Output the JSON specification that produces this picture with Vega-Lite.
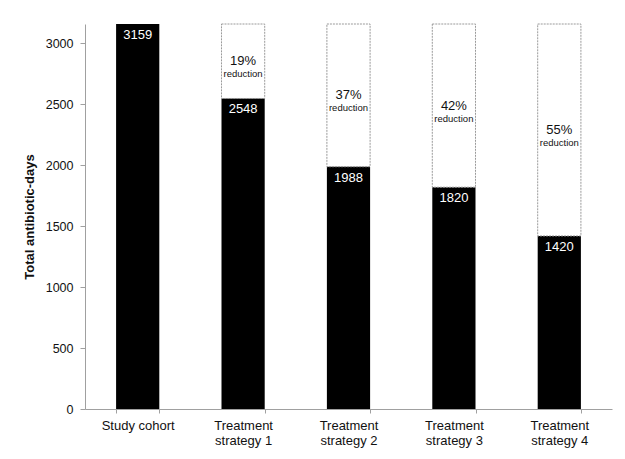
{
  "$schema": "https://vega.github.io/schema/vega-lite/v6.json",
  "width": 527,
  "height": 385,
  "autosize": {"type": "none"},
  "padding": {"left": 85, "top": 24, "right": 13, "bottom": 50},
  "background": "white",
  "config": {"view": {"stroke": null}, "font": "Liberation Sans"},
  "data": {
    "values": [
      {"group": "Study cohort", "days": 3159, "cohort": 3159, "pct": null},
      {"group": "Treatment strategy 1", "days": 2548, "cohort": 3159, "pct": "19%"},
      {"group": "Treatment strategy 2", "days": 1988, "cohort": 3159, "pct": "37%"},
      {"group": "Treatment strategy 3", "days": 1820, "cohort": 3159, "pct": "42%"},
      {"group": "Treatment strategy 4", "days": 1420, "cohort": 3159, "pct": "55%"}
    ]
  },
  "encoding": {
    "x": {
      "field": "group",
      "type": "nominal",
      "sort": null,
      "scale": {"paddingInner": 0.59, "paddingOuter": 0.295},
      "axis": {
        "title": null,
        "labelAngle": 0,
        "tickBand": "extent",
        "tickSize": 4,
        "tickColor": "#a0a0a0",
        "domainColor": "#a0a0a0",
        "labelFontSize": 13,
        "labelColor": "#111",
        "labelPadding": 6,
        "labelLineHeight": 15,
        "labelBaseline": "top",
        "labelExpr": "indexof(datum.label, 'Treatment') == 0 ? ['Treatment', replace(datum.label, 'Treatment ', '')] : datum.label"
      }
    }
  },
  "layer": [
    {
      "mark": {"type": "bar", "color": "black"},
      "encoding": {
        "y": {
          "field": "days",
          "type": "quantitative",
          "scale": {"domain": [0, 3159], "nice": false},
          "axis": {
            "values": [0, 500, 1000, 1500, 2000, 2500, 3000],
            "format": "d",
            "title": "Total antibiotic-days",
            "titleFontWeight": "bold",
            "titleFontSize": 13,
            "titleColor": "#111",
            "titlePadding": 9,
            "grid": false,
            "tickSize": 5,
            "tickColor": "#a0a0a0",
            "domainColor": "#a0a0a0",
            "labelFontSize": 12.5,
            "labelColor": "#111",
            "labelPadding": 7
          }
        }
      }
    },
    {
      "transform": [{"filter": "datum.pct != null"}],
      "mark": {"type": "bar", "fill": "white", "fillOpacity": 0, "stroke": "#9a9a9a", "strokeDash": [2, 1], "strokeWidth": 1},
      "encoding": {
        "y": {"field": "days", "type": "quantitative"},
        "y2": {"field": "cohort"}
      }
    },
    {
      "mark": {"type": "text", "color": "white", "baseline": "top", "dy": 5, "fontSize": 13},
      "encoding": {
        "y": {"field": "days", "type": "quantitative"},
        "text": {"field": "days", "type": "quantitative", "format": "d"}
      }
    },
    {
      "transform": [
        {"filter": "datum.pct != null"},
        {"fold": ["days", "cohort"], "as": ["k", "v"]}
      ],
      "mark": {"type": "text", "color": "#111", "baseline": "middle", "fontSize": 13},
      "encoding": {
        "y": {"aggregate": "mean", "field": "v", "type": "quantitative"},
        "text": {"field": "pct", "type": "nominal"}
      }
    },
    {
      "transform": [
        {"filter": "datum.pct != null"},
        {"fold": ["days", "cohort"], "as": ["k", "v"]}
      ],
      "mark": {"type": "text", "color": "#111", "baseline": "middle", "fontSize": 9.5, "dy": 13},
      "encoding": {
        "y": {"aggregate": "mean", "field": "v", "type": "quantitative"},
        "text": {"value": "reduction"}
      }
    }
  ]
}
